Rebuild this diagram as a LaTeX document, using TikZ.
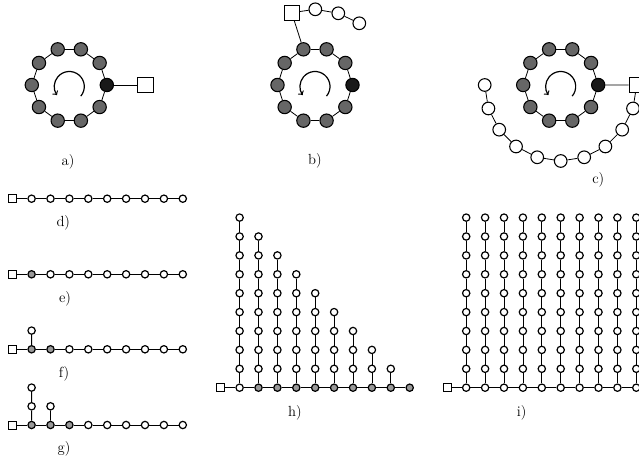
\documentclass[tikz,border=0pt]{standalone}
\begin{document}
\begin{tikzpicture}[x=0.75pt, y=0.75pt,
      every node/.style={font=\fontsize{11}{13}\selectfont},
      ringbead/.style={circle, draw=black, fill=black!60, line width=0.8pt, minimum size=10pt, inner sep=0pt},
      hotbead/.style={ringbead, fill=black!90},
      loosebead/.style={circle, draw=black, fill=white, line width=0.8pt, minimum size=9.5pt, inner sep=0pt},
      port/.style={rectangle, draw=black, fill=white, line width=0.7pt, minimum size=11.5pt, inner sep=0pt},
      smalldot/.style={circle, draw=black, fill=white, line width=0.9pt, minimum size=5.5pt, inner sep=0pt},
      greydot/.style={smalldot, fill=black!40},
      smallport/.style={rectangle, draw=black, fill=white, line width=0.6pt, minimum size=6pt, inner sep=0pt},
      link/.style={line width=0.6pt},
      spin/.style={line width=0.9pt, ->},
      caption/.style={inner sep=0pt}
  ]
    \useasboundingbox (0,0) rectangle (639,464);

    % rings a) b) c)
    \foreach \p/\cx in {a/69.3,b/315,c/560.7} {
      \coordinate (\p c) at (\cx,379);
      \node[hotbead] (\p0) at ([shift={(0:37.5)}]\p c) {};
      \foreach \k in {1,...,9}
        \node[ringbead] (\p\k) at ([shift={(\k*36:37.5)}]\p c) {};
      \foreach \k [remember=\k as \j (initially 0)] in {1,...,9}
        \draw[link] (\p\j) -- (\p\k);
      \draw[link] (\p9) -- (\p0);
      \draw[spin] ([shift={(-40:15)}]\cx,377.5) arc[start angle=-40, end angle=215, radius=15];
    }

    \node[port] (asq) at ([shift={(0:76)}]ac) {};
    \draw[link] (a0) -- (asq);

    \node[port] (bsq) at (291.7,451.3) {};
    \node[loosebead] (bt1) at (315.3,454.7) {};
    \node[loosebead] (bt2) at (338.3,450.7) {};
    \node[loosebead] (bt3) at (359.3,440.7) {};
    \draw[link] (b3) -- (bsq) -- (bt1) -- (bt2) -- (bt3);

    \node[port] (csq) at ([shift={(0:76)}]cc) {};
    \foreach \k in {1,...,10}
      \node[loosebead] (ct\k) at ([shift={(-\k*18:76)}]cc) {};
    \draw[link] (c0) -- (csq) -- (ct1);
    \foreach \k [remember=\k as \j (initially 1)] in {2,...,10}
      \draw[link] (ct\j) -- (ct\k);

    \node[caption] (la) at (68,302) {a)};
    \node[caption] (lb) at (315,303.3) {b)};
    \node[caption] (lc) at (598.3,284) {c)};

    % chains d) e) f) g)
    \foreach \r/\y/\ng in {d/265.3/0,e/189.7/1,f/114.7/2,g/39/3} {
      \node[smallport] (\r sq) at (12.7,\y) {};
      \foreach \k in {1,...,9} {
        \ifnum\k>\ng \def\st{smalldot}\else\def\st{greydot}\fi
        \node[\st] (\r\k) at ({12.7+18.9*\k},\y) {};
      }
      \draw[link] (\r sq) -- (\r1);
      \foreach \k [remember=\k as \j (initially 1)] in {2,...,9}
        \draw[link] (\r\j) -- (\r\k);
    }
    \node[smalldot] (f1v1) at (31.6,133.4) {};
    \draw[link] (f1) -- (f1v1);
    \node[smalldot] (g1v1) at (31.6,57.7) {};
    \node[smalldot] (g1v2) at (31.6,76.4) {};
    \node[smalldot] (g2v1) at (50.5,57.7) {};
    \draw[link] (g1) -- (g1v1) -- (g1v2);
    \draw[link] (g2) -- (g2v1);

    \node[caption] (ld) at (63.3,240.7) {d)};
    \node[caption] (le) at (65,164.7) {e)};
    \node[caption] (lf) at (64,89.7) {f)};
    \node[caption] (lg) at (64,14.7) {g)};

    % combs h) i)
    \node[smallport] (hsq) at (220.7,76.3) {};
    \foreach \k in {1,...,10} {
      \ifnum\k=1 \def\st{smalldot}\else\def\st{greydot}\fi
      \node[\st] (h\k v0) at ({220.7+18.9*\k},76.3) {};
    }
    \draw[link] (hsq) -- (h1v0);
    \foreach \k [remember=\k as \j (initially 1)] in {2,...,10}
      \draw[link] (h\j v0) -- (h\k v0);
    \foreach \k [evaluate=\k as \top using int(10-\k)] in {1,...,9} {
      \foreach \m [remember=\m as \j (initially 0)] in {1,...,\top} {
        \node[smalldot] (h\k v\m) at ({220.7+18.9*\k},{76.3+18.9*\m}) {};
        \draw[link] (h\k v\j) -- (h\k v\m);
      }
    }

    \node[smallport] (isq) at (447.3,76.3) {};
    \foreach \k in {1,...,10}
      \node[smalldot] (i\k v0) at ({447.3+18.9*\k},76.3) {};
    \draw[link] (isq) -- (i1v0);
    \foreach \k [remember=\k as \j (initially 1)] in {2,...,10}
      \draw[link] (i\j v0) -- (i\k v0);
    \foreach \k in {1,...,10} {
      \foreach \m [remember=\m as \j (initially 0)] in {1,...,9} {
        \node[smalldot] (i\k v\m) at ({447.3+18.9*\k},{76.3+18.9*\m}) {};
        \draw[link] (i\k v\j) -- (i\k v\m);
      }
    }

    \node[caption] (lh) at (295,50.7) {h)};
    \node[caption] (li) at (521.7,50.7) {i)};
  \end{tikzpicture}
\end{document}
